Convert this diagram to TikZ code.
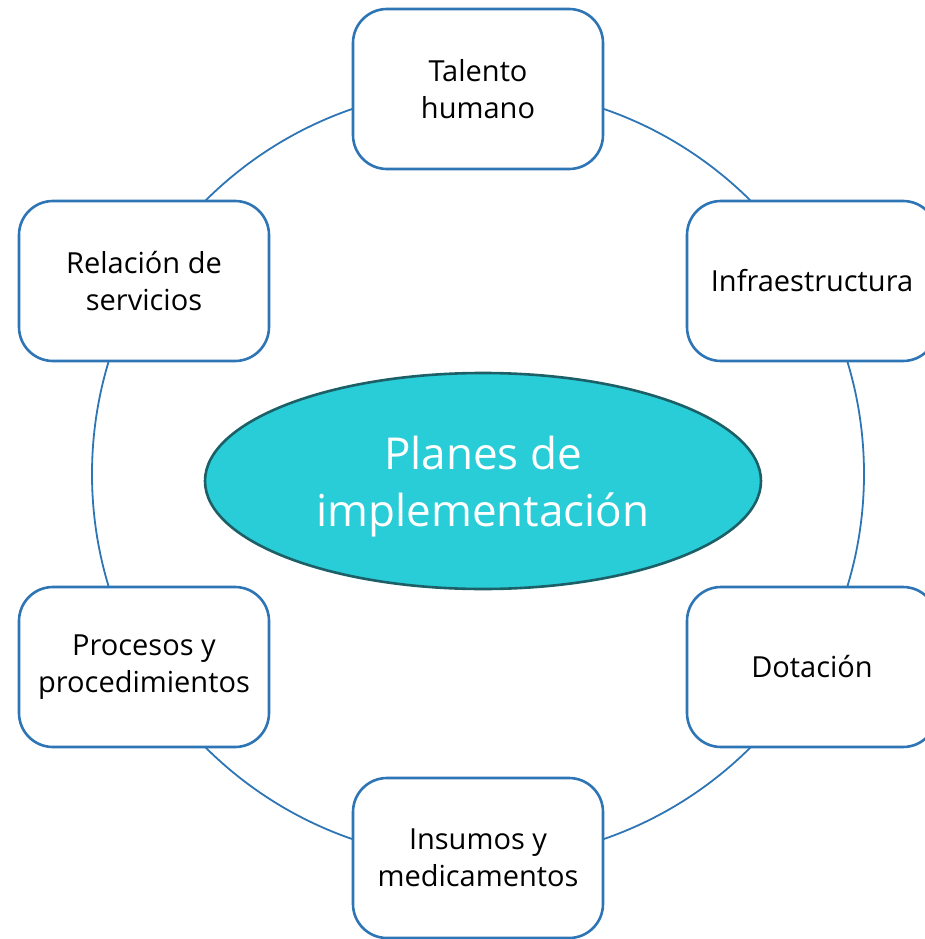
\documentclass[tikz,border=0pt]{standalone}
\usepackage{fontspec}
\setmainfont{Open Sans}
\definecolor{boxblue}{HTML}{2E75B6}
\definecolor{ellfill}{HTML}{28CDD8}
\definecolor{elldraw}{HTML}{1D5F66}
\usetikzlibrary{shapes.geometric}
\begin{document}
\begin{tikzpicture}[x=1pt,y=-1pt,
  item/.style={draw=boxblue,line width=2.6pt,fill=white,rounded corners=34pt,
    minimum width=250pt,minimum height=160pt,align=center,inner sep=0pt,
    font=\fontsize{29}{37}\selectfont},
  ring/.style={draw=boxblue,line width=1.8pt}]
\useasboundingbox (0,0) rectangle (924,939);
\coordinate (c) at (478,474);
\draw[ring] (c) circle[radius=386];
\node[ellipse,draw=elldraw,line width=2.6pt,fill=ellfill,minimum width=556pt,minimum height=216pt] (plan) at (483,481) {};
\node[align=center,text=white,font=\fontsize{44}{57}\selectfont,inner sep=0pt] (plantext) at ([yshift=-6pt]plan.center) {Planes de\\implementación};
\node[item] (th) at (478,89) {Talento\\humano};
\node[item] (rs) at (144,281) {Relación de\\servicios};
\node[item] (inf) at (812,281) {Infraestructura};
\node[item] (pp) at (144,667) {Procesos y\\procedimientos};
\node[item] (dot) at (812,667) {Dotación};
\node[item] (ins) at (478,858) {Insumos y\\medicamentos};
\end{tikzpicture}
\end{document}
